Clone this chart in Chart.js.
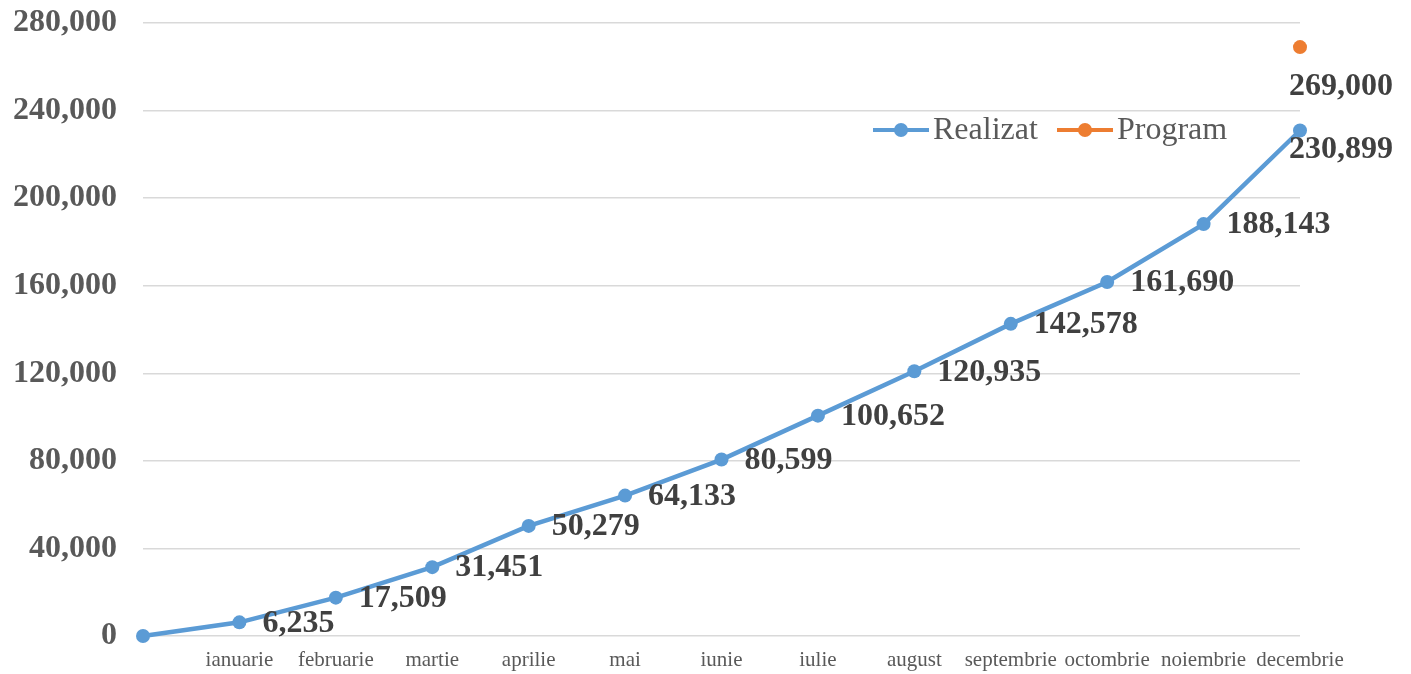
<!DOCTYPE html>
<html>
<head>
<meta charset="utf-8">
<script src="https://cdn.jsdelivr.net/npm/chart.js@4/dist/chart.umd.min.js"></script>
<style>
html,body{margin:0;padding:0;background:#fff;}
#wrap{width:1411px;height:674px;position:relative;}
</style>
</head>
<body>
<div id="wrap"><canvas id="c" width="1411" height="674"></canvas></div>
<script>
const categories = ["", "ianuarie", "februarie", "martie", "aprilie", "mai", "iunie", "iulie", "august", "septembrie", "octombrie", "noiembrie", "decembrie"];
const realizat = [0, 6235, 17509, 31451, 50279, 64133, 80599, 100652, 120935, 142578, 161690, 188143, 230899];
const program = [null, null, null, null, null, null, null, null, null, null, null, null, 269000];
const seriesNames = ["Realizat", "Program"];
const yTicks = [0, 40000, 80000, 120000, 160000, 200000, 240000, 280000];

const BLUE = "#5B9BD5", ORANGE = "#ED7D31";
const SERIF = '"Liberation Serif", "Times New Roman", serif';
const fmt = v => Math.round(v).toLocaleString('en-US');

const labelPlugin = {
  id: 'valueLabels',
  afterDatasetsDraw(chart) {
    const ctx = chart.ctx;
    ctx.save();
    ctx.font = 'bold 32px ' + SERIF;
    ctx.fillStyle = '#404040';
    ctx.textBaseline = 'middle';
    ctx.textAlign = 'left';
    chart.data.datasets.forEach((ds, di) => {
      const meta = chart.getDatasetMeta(di);
      meta.data.forEach((pt, i) => {
        const v = ds.data[i];
        if (v === null || v === undefined || (di === 0 && i === 0)) return;
        let dx = 23, dy = 1;
        const last = i === ds.data.length - 1;
        if (di === 0 && last) { dx = -11; dy = 19; }
        if (di === 1) { dx = -11; dy = 40; }
        ctx.fillText(fmt(v), pt.x + dx, pt.y + dy);
      });
    });
    ctx.restore();
  }
};

const legendPlugin = {
  id: 'insideLegend',
  afterDraw(chart) {
    const ctx = chart.ctx;
    ctx.save();
    ctx.font = '32px ' + SERIF;
    ctx.textBaseline = 'middle';
    ctx.textAlign = 'left';
    const items = [{t: seriesNames[0], c: BLUE, x: 873}, {t: seriesNames[1], c: ORANGE, x: 1057}];
    const y = 130;
    items.forEach(it => {
      ctx.strokeStyle = it.c;
      ctx.lineWidth = 4;
      ctx.beginPath();
      ctx.moveTo(it.x, y);
      ctx.lineTo(it.x + 56, y);
      ctx.stroke();
      ctx.fillStyle = it.c;
      ctx.beginPath();
      ctx.arc(it.x + 28, y, 7, 0, Math.PI * 2);
      ctx.fill();
      ctx.fillStyle = '#595959';
      ctx.fillText(it.t, it.x + 60, y + 1);
    });
    ctx.restore();
  }
};

new Chart(document.getElementById('c'), {
  type: 'line',
  data: {
    labels: categories,
    datasets: [
      {label: seriesNames[0], data: realizat, borderColor: BLUE, backgroundColor: BLUE, borderWidth: 4.5, pointRadius: 7, pointBackgroundColor: BLUE, pointBorderWidth: 0, tension: 0, clip: false},
      {label: seriesNames[1], data: program, borderColor: ORANGE, backgroundColor: ORANGE, borderWidth: 4.5, pointRadius: 7, pointBackgroundColor: ORANGE, pointBorderWidth: 0, showLine: false, clip: false}
    ]
  },
  options: {
    responsive: false,
    animation: false,
    layout: {padding: {left: 0, right: 111, top: 0, bottom: 0}},
    plugins: {legend: {display: false}, tooltip: {enabled: false}},
    scales: {
      x: {
        offset: false,
        grid: {display: false, drawTicks: false},
        border: {display: false},
        afterFit(scale) { scale.height = 38; scale.paddingLeft = 0; scale.paddingRight = 0; },
        ticks: {color: '#595959', font: {family: SERIF, size: 21}, padding: 12, maxRotation: 0, autoSkip: false}
      },
      y: {
        min: 0, max: 280000,
        afterBuildTicks(scale) { scale.ticks = yTicks.map(v => ({value: v})); },
        afterFit(scale) { scale.width = 143; scale.paddingTop = 23; scale.paddingBottom = 0; },
        grid: {color: '#d9d9d9', lineWidth: 1.5, drawTicks: false},
        border: {display: false},
        ticks: {color: '#595959', font: {family: SERIF, size: 32, weight: 'bold'}, padding: 26, callback: v => fmt(v)}
      }
    }
  },
  plugins: [labelPlugin, legendPlugin]
});
</script>
</body>
</html>
